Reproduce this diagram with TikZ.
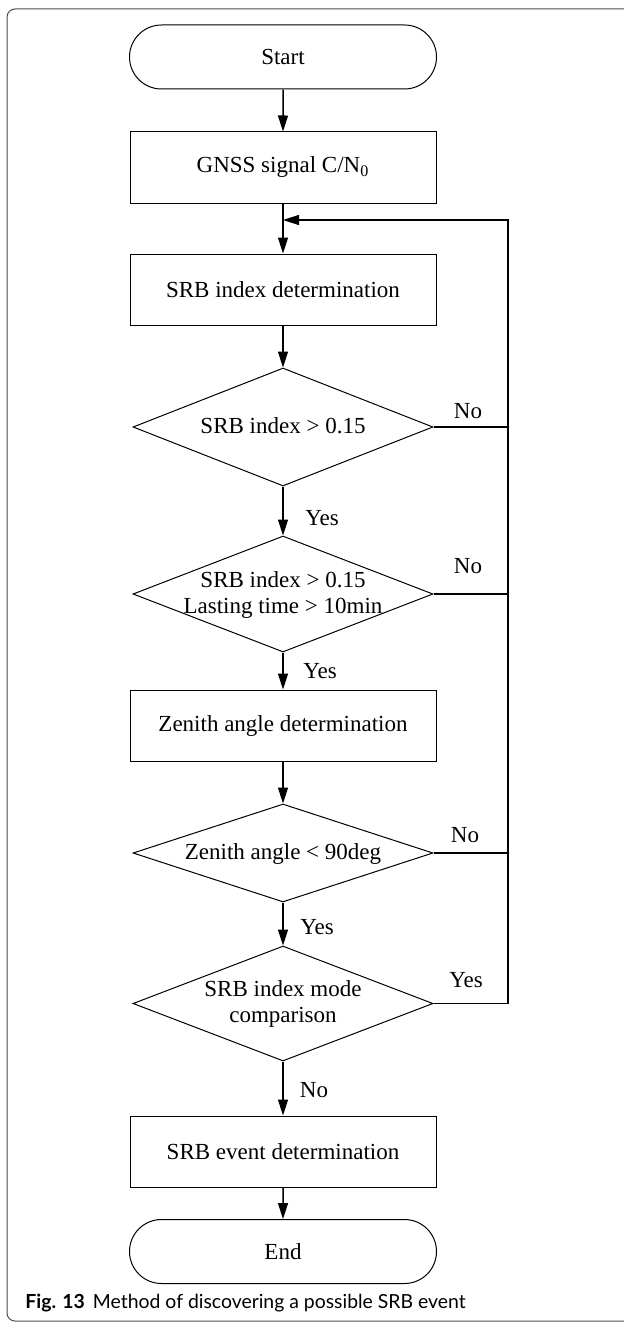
\documentclass[tikz,border=0pt]{standalone}
\usepackage{fontspec}
\setmainfont{Liberation Serif}
\newfontfamily\capfont{Lato}
\usetikzlibrary{shapes.geometric,shapes.misc,arrows.meta}
\newcommand{\ctx}[1]{\smash{\makebox[0pt]{\raisebox{-0.3em}{$\vcenter{\hbox{\begin{tabular}{@{}c@{}}#1\end{tabular}}}$}}}}
\begin{document}
\begin{tikzpicture}[x=0.5pt,y=-0.5pt,
  txt/.style={font=\fontsize{11.5}{13}\selectfont},
  proc/.style={txt, draw, line width=0.5pt, rectangle, minimum width=153pt, minimum height=35.5pt, inner sep=0pt},
  term/.style={txt, draw, line width=0.5pt, rounded rectangle, minimum width=153.5pt, minimum height=32pt, inner sep=0pt},
  dec/.style={txt, draw, line width=0.5pt, diamond, inner sep=0pt, minimum width=150pt},
  lbl/.style={txt, inner sep=0pt},
  conn/.style={line width=0.75pt},
  arr/.style={conn, -{Triangle[length=8pt,width=5pt]}},
  frame/.style={draw=black!70, line width=0.5pt, rounded corners=4pt}
]
\useasboundingbox (0,0) rectangle (624,1322);
\draw[frame] (660,9) -- (7,9) -- (7,1321) -- (660,1321);

\node[term] (start) at (283,57) {Start};
\node[proc] (gnss) at (283,167.5) {GNSS signal C/N\textsubscript{0}};
\node[proc] (srbidx) at (283,289.5) {SRB index determination};
\node[dec, minimum height=59pt] (d1) at (283,427) {\ctx{SRB index > 0.15}};
\node[dec, minimum height=58pt] (d2) at (283,594) {\ctx{SRB index > 0.15\\Lasting time > 10min}};
\node[proc] (zen) at (283,725.5) {Zenith angle determination};
\node[dec, minimum height=49pt] (d3) at (283,853) {\ctx{Zenith angle < 90deg}};
\node[dec, minimum height=57.5pt] (d4) at (283,1003.5) {\ctx{SRB index mode\\comparison}};
\node[proc] (evt) at (283,1151.5) {SRB event determination};
\node[term] (end) at (283,1251.5) {End};

\coordinate (j) at (283,220);
\coordinate (top) at (508,220);

\draw[arr] (start) -- (gnss);
\draw[conn] (gnss) -- (j);
\draw[arr] (j) -- (srbidx);
\draw[arr] (srbidx) -- (d1);
\draw[arr] (d1) -- (d2);
\draw[arr] (d2) -- (zen);
\draw[arr] (zen) -- (d3);
\draw[arr] (d3) -- (d4);
\draw[arr] (d4) -- (evt);
\draw[arr] (evt) -- (end);
\draw[arr] (d4.east) -| (top) -- (j);
\draw[conn] (d1.east) -- (d1.east -| top);
\draw[conn] (d2.east) -- (d2.east -| top);
\draw[conn] (d3.east) -- (d3.east -| top);

\node[lbl] (n1) at (468,411) {No};
\node[lbl] (n2) at (468,566) {No};
\node[lbl] (n3) at (465,835.5) {No};
\node[lbl] (y4) at (466,980.5) {Yes};
\node[lbl] (y1) at (322,518) {Yes};
\node[lbl] (y2) at (320,671) {Yes};
\node[lbl] (y3) at (317,927.5) {Yes};
\node[lbl] (n4) at (314,1090) {No};

\node[anchor=base west, inner sep=0pt, font=\capfont\fontsize{9.7}{11}\selectfont] (cap) at (25,1308)
  {\textbf{Fig. 13}\hspace{4pt}Method of discovering a possible SRB event};
\end{tikzpicture}
\end{document}
